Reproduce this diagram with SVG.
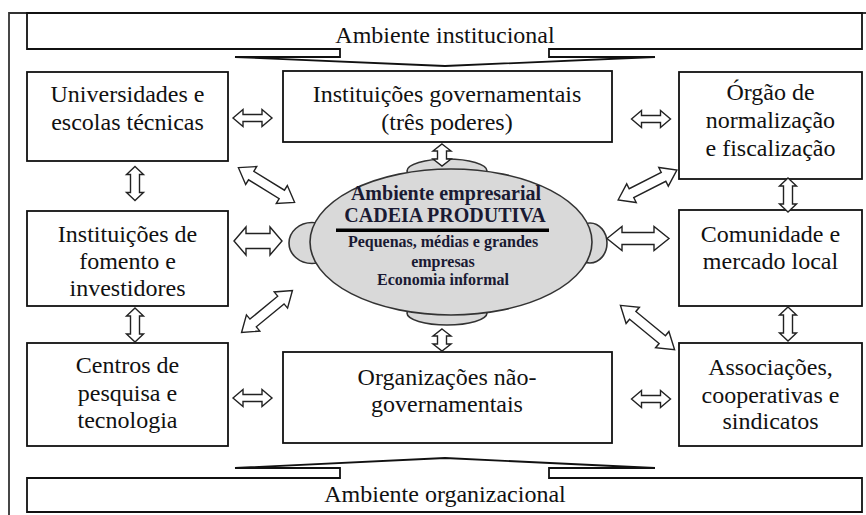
<svg xmlns="http://www.w3.org/2000/svg" width="866" height="515" viewBox="0 0 866 515">
<style>
.box{fill:#fff;stroke:#111;stroke-width:1.8}
.t{font-family:"Liberation Serif","Times New Roman",serif;font-size:24px;fill:#111;text-anchor:middle}
.b{font-family:"Liberation Serif","Times New Roman",serif;font-weight:bold;fill:#1a1a33;text-anchor:middle}
.arr{fill:#fff;stroke:#222;stroke-width:1.4;stroke-linejoin:miter}
.gray{fill:#d9d9d9;stroke:#333;stroke-width:1.6}
</style>
<defs>
<polygon id="sa" points="-19.5,0 -9.5,-8.5 -9.5,-3.5 9.5,-3.5 9.5,-8.5 19.5,0 9.5,8.5 9.5,3.5 -9.5,3.5 -9.5,8.5"/>
<polygon id="va" points="-17,0 -9,-8.5 -9,-4.5 9,-4.5 9,-8.5 17,0 9,8.5 9,4.5 -9,4.5 -9,8.5"/>
<polygon id="ma" points="-11,0 -4,-9 -4,-4.5 4,-4.5 4,-9 11,0 4,9 4,4.5 -4,4.5 -4,9"/>
<polygon id="da" points="-33,0 -18,-10.5 -18,-5 18,-5 18,-10.5 33,0 18,10.5 18,5 -18,5 -18,10.5"/>
</defs>

<path d="M9,515 V13 H866" fill="none" stroke="#333" stroke-width="1.8"/>

<g id="ambiente-institucional">
<path class="box" d="M27,13 H862 V49 H549 V57 H655 L445,66 L235,57 H340 V49 H27 Z"/>
<text class="t" x="445" y="43">Ambiente institucional</text>
</g>

<g id="ambiente-organizacional">
<path class="box" d="M27,478 H340 V468 H235 L445,458 L655,468 H549 V478 H862 V512 H27 Z"/>
<text class="t" x="445" y="502">Ambiente organizacional</text>
</g>

<g id="universidades">
<rect class="box" x="27" y="72" width="201" height="89"/>
<text class="t" x="127.5" y="102">Universidades e</text>
<text class="t" x="127.5" y="130">escolas técnicas</text>
</g>

<g id="fomento">
<rect class="box" x="27" y="211" width="201" height="95"/>
<text class="t" x="127.5" y="242">Instituições de</text>
<text class="t" x="127.5" y="269">fomento e</text>
<text class="t" x="127.5" y="296">investidores</text>
</g>

<g id="centros">
<rect class="box" x="27" y="343" width="201" height="103"/>
<text class="t" x="127.5" y="373">Centros de</text>
<text class="t" x="127.5" y="401">pesquisa e</text>
<text class="t" x="127.5" y="428">tecnologia</text>
</g>

<g id="governamentais">
<rect class="box" x="283" y="71" width="329" height="71"/>
<text class="t" x="447" y="102">Instituições governamentais</text>
<text class="t" x="447" y="130">(três poderes)</text>
</g>

<g id="ong">
<rect class="box" x="283" y="352" width="329" height="91"/>
<text class="t" x="447" y="385">Organizações não-</text>
<text class="t" x="447" y="412">governamentais</text>
</g>

<g id="orgao">
<rect class="box" x="679" y="72" width="183" height="107"/>
<text class="t" x="770.5" y="100">Órgão de</text>
<text class="t" x="770.5" y="128">normalização</text>
<text class="t" x="770.5" y="156">e fiscalização</text>
</g>

<g id="comunidade">
<rect class="box" x="679" y="210" width="183" height="96"/>
<text class="t" x="770.5" y="242">Comunidade e</text>
<text class="t" x="770.5" y="269">mercado local</text>
</g>

<g id="associacoes">
<rect class="box" x="679" y="343" width="183" height="103"/>
<text class="t" x="770.5" y="375">Associações,</text>
<text class="t" x="770.5" y="403">cooperativas e</text>
<text class="t" x="770.5" y="429">sindicatos</text>
</g>

<g id="cadeia-produtiva">
<ellipse class="gray" cx="312" cy="243" rx="23" ry="20.5"/>
<ellipse class="gray" cx="590" cy="243" rx="17" ry="20"/>
<ellipse class="gray" cx="447" cy="171" rx="40" ry="12"/>
<ellipse class="gray" cx="447" cy="313" rx="40" ry="12"/>
<ellipse class="gray" cx="451" cy="242" rx="141" ry="73"/>
<text class="b" x="446" y="200" font-size="20">Ambiente empresarial</text>
<text class="b" x="445" y="222" font-size="20">CADEIA PRODUTIVA</text>
<rect x="336" y="228.5" width="213" height="3.5" fill="#000"/>
<text class="b" x="443" y="247" font-size="16">Pequenas, médias e grandes</text>
<text class="b" x="443" y="267" font-size="16">empresas</text>
<text class="b" x="443" y="285" font-size="16">Economia informal</text>
</g>

<g id="connectors" class="arr">
<use href="#sa" transform="translate(252.5,118)"/>
<use href="#sa" transform="translate(252.5,398)"/>
<use href="#sa" transform="translate(651,119)"/>
<use href="#sa" transform="translate(651,399)"/>
<use href="#va" transform="translate(135,183.5) rotate(90)"/>
<use href="#va" transform="translate(135,325) rotate(90)"/>
<use href="#va" transform="translate(788,195) rotate(90)"/>
<use href="#va" transform="translate(788,324) rotate(90)"/>
<use href="#ma" transform="translate(442,155) rotate(90)"/>
<use href="#ma" transform="translate(442,340) rotate(90)"/>
<polygon points="-24,0 -12,-14 -12,-7.5 12,-7.5 12,-14 24,0 12,14 12,7.5 -12,7.5 -12,14" transform="translate(258,241)"/>
<polygon points="-31,0 -16,-12 -16,-6 16,-6 16,-12 31,0 16,12 16,6 -16,6 -16,12" transform="translate(638,238.5)"/>
<use href="#da" transform="translate(266.5,185) rotate(31.7)"/>
<use href="#da" transform="translate(267,311.5) rotate(-39.6)"/>
<use href="#da" transform="translate(647.5,185) rotate(-27)"/>
<use href="#da" transform="translate(647.5,327.5) rotate(39.3) scale(1.06,1)"/>
</g>
</svg>
